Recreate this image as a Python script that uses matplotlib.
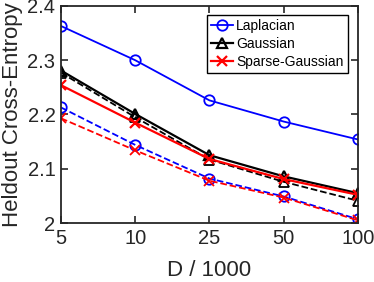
import matplotlib
matplotlib.use('Agg')
import matplotlib.pyplot as plt

plt.rcParams['font.family'] = ['Liberation Sans', 'DejaVu Sans']

D = ['5', '10', '25', '50', '100']
laplacian = [2.363, 2.300, 2.226, 2.187, 2.154]
gaussian = [2.281, 2.201, 2.125, 2.086, 2.055]
sparse_gaussian = [2.254, 2.185, 2.118, 2.081, 2.052]
laplacian_dash = [2.213, 2.144, 2.082, 2.049, 2.007]
gaussian_dash = [2.277, 2.195, 2.117, 2.076, 2.041]
sparse_gaussian_dash = [2.193, 2.134, 2.078, 2.047, 2.005]

x = range(len(D))
fig = plt.figure(figsize=(3.74, 2.82), dpi=100)
ax = fig.add_axes([0.163, 0.209, 0.794, 0.77])

ms = 7.5
ax.plot(x, laplacian_dash, '--o', color='#0000ff', mfc='none', ms=ms, lw=1.3, mew=1.3)
ax.plot(x, gaussian_dash, '--^', color='k', mfc='none', ms=ms, lw=1.3, mew=1.3)
ax.plot(x, sparse_gaussian_dash, '--x', color='#ff0000', ms=ms-1, lw=1.3, mew=1.3)
l1, = ax.plot(x, laplacian, '-o', color='#0000ff', mfc='none', ms=ms, lw=1.3, mew=1.3, label='Laplacian')
l2, = ax.plot(x, gaussian, '-^', color='k', mfc='none', ms=ms, lw=1.6, mew=1.6, label='Gaussian')
l3, = ax.plot(x, sparse_gaussian, '-x', color='#ff0000', ms=ms-1, lw=1.6, mew=1.6, label='Sparse-Gaussian')

ax.set_xlim(0, 4)
ax.set_ylim(2, 2.4)
ax.set_xticks(list(x))
ax.set_xticklabels(D)
ax.set_yticks([2, 2.1, 2.2, 2.3, 2.4])
ax.set_yticklabels(['2', '2.1', '2.2', '2.3', '2.4'])
ax.tick_params(direction='in', top=True, right=True, labelsize=14.5, colors='#262626',
               length=5, width=1.2, pad=4)
for s in ax.spines.values():
    s.set_linewidth(1.3)
    s.set_color('#262626')
ax.set_xlabel('D / 1000', fontsize=16, color='#262626', labelpad=9)
ax.set_ylabel('Heldout Cross-Entropy', fontsize=16, color='#262626', labelpad=3)

leg = ax.legend(handles=[l1, l2, l3], loc='upper right', fontsize=10, fancybox=False,
                edgecolor='k', framealpha=1, handlelength=1.6, handletextpad=0.2,
                borderpad=0.3, labelspacing=0.3, borderaxespad=0,
                bbox_to_anchor=(0.965, 0.96))
leg.get_frame().set_linewidth(1.0)

fig.savefig('out.png', dpi=100)
